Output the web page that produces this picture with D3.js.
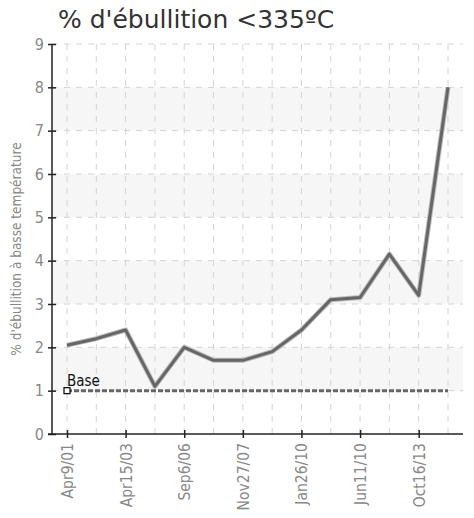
<!DOCTYPE html>
<html>
<head>
<meta charset="utf-8">
<script src="https://cdn.jsdelivr.net/npm/d3@7"></script>
<style>
  body { margin: 0; background: #fff; }
  text { font-family: "DejaVu Sans Condensed", "DejaVu Sans", sans-serif; font-stretch: condensed; }
</style>
</head>
<body>
<script>
// Data
var dates = ["Apr9/01", "", "Apr15/03", "", "Sep6/06", "", "Nov27/07", "",
  "Jan26/10", "", "Jun11/10", "", "Oct16/13", ""];
var values = [2.05, 2.2, 2.4, 1.1, 2.0, 1.7, 1.7, 1.9, 2.4, 3.1, 3.15, 4.15, 3.2, 8.0];
var base = [1, 1, 1, 1, 1, 1, 1, 1, 1, 1, 1, 1, 1, 1];
var yTicks = [0, 1, 2, 3, 4, 5, 6, 7, 8, 9];

var w = 474;
var h = 518;

var svg = d3.select("body")
  .append("svg")
  .attr("width", w)
  .attr("height", h);

var pLeft = 52, pRight = 463, pTop = 44, pBottom = 434;

var x = d3.scalePoint()
  .domain(d3.range(dates.length))
  .range([67, 448]);

var y = d3.scaleLinear()
  .domain([0, 9])
  .range([pBottom, pTop]);

/*
----Bands + grid----
*/
svg.selectAll(".band")
  .data(yTicks.filter(function(d) { return d % 2 == 1 && d < 9; }))
  .enter()
  .append("rect")
  .attr("x", pLeft)
  .attr("width", pRight - pLeft)
  .attr("y", function(d) { return y(d + 1); })
  .attr("height", function(d) { return y(d) - y(d + 1); })
  .attr("fill", "#f6f6f6");

svg.selectAll(".hgrid")
  .data(yTicks.filter(function(d) { return d > 0; }))
  .enter()
  .append("line")
  .attr("x1", pLeft)
  .attr("x2", pRight)
  .attr("y1", function(d) { return y(d); })
  .attr("y2", function(d) { return y(d); })
  .attr("stroke", "#d4d4d4")
  .attr("stroke-dasharray", "6,6");

svg.selectAll(".vgrid")
  .data(d3.range(dates.length))
  .enter()
  .append("line")
  .attr("x1", function(d) { return x(d); })
  .attr("x2", function(d) { return x(d); })
  .attr("y1", pTop)
  .attr("y2", pBottom)
  .attr("stroke", "#d4d4d4")
  .attr("stroke-dasharray", "6,6");

/*
----Axes----
*/
var yAxis = d3.axisLeft(y)
  .tickValues(yTicks)
  .tickSize(4)
  .tickPadding(4);

var gy = svg.append("g")
  .attr("transform", "translate(" + pLeft + ",0)")
  .call(yAxis);
gy.select(".domain").attr("d", "M0," + pTop + "V" + pBottom).attr("stroke", "#222").attr("stroke-width", 1.5);
gy.selectAll(".tick line").attr("x1", -4).attr("x2", 4).attr("stroke", "#222").attr("stroke-width", 1.5);
gy.selectAll("text").attr("fill", "#888").style("font-size", "16px");

var xAxis = d3.axisBottom(x)
  .tickValues(d3.range(0, dates.length, 2))
  .tickFormat(function(i) { return dates[i]; })
  .tickSize(4);

var gx = svg.append("g")
  .attr("transform", "translate(0," + pBottom + ")")
  .call(xAxis);
gx.select(".domain").attr("d", "M" + (pLeft - 4) + ",0H" + pRight).attr("stroke", "#222").attr("stroke-width", 1.5);
gx.selectAll(".tick line").attr("y1", -4).attr("y2", 4).attr("stroke", "#222").attr("stroke-width", 1.5);
gx.selectAll("text")
  .attr("fill", "#888")
  .style("font-size", "15.5px")
  .attr("text-anchor", "end")
  .attr("transform", "rotate(-90)")
  .attr("x", -9)
  .attr("y", 0)
  .attr("dy", "0.35em");

/*
----Series----
*/
var line = d3.line()
  .x(function(d, i) { return x(i); })
  .y(function(d) { return y(d); });

svg.append("path")
  .datum(base)
  .attr("d", line)
  .attr("fill", "none")
  .attr("stroke", "#666")
  .attr("stroke-width", 3)
  .attr("stroke-dasharray", "5,2");

svg.append("path")
  .datum(values)
  .attr("d", line)
  .attr("fill", "none")
  .attr("stroke", "#bbb")
  .attr("stroke-width", 5)
  .attr("stroke-linejoin", "round");

svg.append("path")
  .datum(values)
  .attr("d", line)
  .attr("fill", "none")
  .attr("stroke", "#666")
  .attr("stroke-width", 3)
  .attr("stroke-linejoin", "round");

svg.append("rect")
  .attr("x", x(0) - 3)
  .attr("y", y(base[0]) - 3)
  .attr("width", 6)
  .attr("height", 6)
  .attr("fill", "#fff")
  .attr("stroke", "#000")
  .attr("stroke-width", 1.2);

svg.append("text")
  .attr("x", x(0))
  .attr("y", y(base[0]) - 5)
  .attr("fill", "#111")
  .style("font-size", "15px")
  .text("Base");

/*
----Labels----
*/
svg.append("text")
  .attr("transform", "translate(21," + ((pTop + pBottom) / 2 + 10) + ") rotate(-90)")
  .attr("text-anchor", "middle")
  .attr("fill", "#888")
  .style("font-size", "13.5px")
  .text("% d'ébullition à basse température");

svg.append("text")
  .attr("x", 58)
  .attr("y", 28)
  .attr("fill", "#333")
  .style("font-family", "'DejaVu Sans', sans-serif")
  .style("font-stretch", "normal")
  .style("font-size", "25px")
  .text("% d'ébullition <335ºC");
</script>
</body>
</html>
